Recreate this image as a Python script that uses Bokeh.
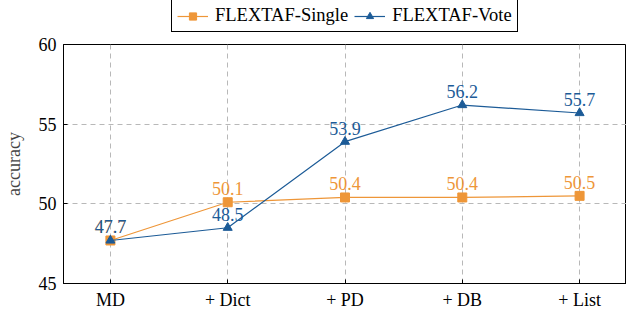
from bokeh.plotting import figure
from bokeh.layouts import column
from bokeh.models import Range1d, FixedTicker, Legend, LegendItem, ColumnDataSource
from bokeh.core.properties import value
from bokeh.embed import file_html
from bokeh.resources import INLINE

categories = ["MD", "+ Dict", "+ PD", "+ DB", "+ List"]
single = [47.7, 50.1, 50.4, 50.4, 50.5]
vote = [47.7, 48.5, 53.9, 56.2, 55.7]
series_names = ["FLEXTAF-Single", "FLEXTAF-Vote"]
y_ticks = [45, 50, 55, 60]

ORANGE = "#ee9638"
BLUE = "#1c5b97"
FONT = "Liberation Serif"
FS = "18px"

xs = list(range(len(categories)))

W = 626
p = figure(width=W, height=276, output_backend="svg", toolbar_location=None,
           x_range=Range1d(-0.4, len(categories) - 0.6), y_range=Range1d(45, 60),
           min_border_left=61, min_border_right=0, min_border_top=8, min_border_bottom=27)

p.outline_line_color = "black"
p.outline_line_width = 1
p.background_fill_color = "white"
p.border_fill_color = "white"

# axes
p.xaxis.ticker = FixedTicker(ticks=xs)
p.xaxis.major_label_overrides = {i: c for i, c in enumerate(categories)}
p.yaxis.ticker = FixedTicker(ticks=y_ticks)
for ax in (p.xaxis[0], p.yaxis[0]):
    ax.axis_line_color = "black"
    ax.major_tick_in = 4
    ax.major_tick_out = 0
    ax.minor_tick_line_color = None
    ax.major_tick_line_color = "black"
    ax.major_label_text_font = FONT
    ax.major_label_text_font_size = FS
    ax.major_label_text_color = "black"
p.xaxis.major_label_standoff = 6
p.yaxis.major_label_standoff = 7
p.yaxis.axis_label = "accuracy"
p.yaxis.axis_label_text_font = FONT
p.yaxis.axis_label_text_font_size = FS
p.yaxis.axis_label_text_font_style = "normal"
p.yaxis.axis_label_standoff = 12

# grid
for g in (p.xgrid[0], p.ygrid[0]):
    g.grid_line_color = "#b8b8b8"
    g.grid_line_dash = "5 4"
    g.grid_line_width = 1
p.xgrid.ticker = FixedTicker(ticks=xs)
p.ygrid.ticker = FixedTicker(ticks=y_ticks)

src = ColumnDataSource(dict(x=xs, single=single, vote=vote,
                            single_lbl=[f"{v:.1f}" for v in single],
                            vote_lbl=[f"{v:.1f}" for v in vote]))

def draw_series(fig):
    a = fig.line("x", "single", source=src, line_color=ORANGE, line_width=1.2)
    b = fig.scatter("x", "single", source=src, marker="square", size=9,
                    fill_color=ORANGE, line_color=ORANGE)
    c = fig.line("x", "vote", source=src, line_color=BLUE, line_width=1.2)
    d = fig.scatter("x", "vote", source=src, marker="triangle", size=9,
                    fill_color=BLUE, line_color=BLUE)
    return a, b, c, d

draw_series(p)

p.text("x", "single", text="single_lbl", source=src, text_color=ORANGE,
       text_font=value(FONT), text_font_size=value(FS), text_align="center",
       text_baseline="bottom", y_offset=-7)
p.text("x", "vote", text="vote_lbl", source=src, text_color=BLUE,
       text_font=value(FONT), text_font_size=value(FS), text_align="center",
       text_baseline="bottom", y_offset=-7)

# legend strip on top (its own view is far away from the data, so only the legend shows)
lg = figure(width=W, height=36, output_backend="svg", toolbar_location=None,
            x_axis_location=None, y_axis_location=None,
            x_range=Range1d(100, 101), y_range=Range1d(100, 101),
            min_border=0)
lg.outline_line_color = None
lg.xgrid.visible = False
lg.ygrid.visible = False
d1, d2, d3, d4 = draw_series(lg)
legend = Legend(items=[LegendItem(label=series_names[0], renderers=[d1, d2]),
                       LegendItem(label=series_names[1], renderers=[d3, d4])],
                orientation="horizontal", location=(108, 4))
legend.label_text_font = FONT
legend.label_text_font_size = "18.5px"
legend.label_text_color = "black"
legend.border_line_color = "black"
legend.border_line_width = 1
legend.border_line_alpha = 1
legend.padding = 5
legend.margin = 0
legend.spacing = 6
legend.glyph_width = 31
legend.glyph_height = 18
legend.label_standoff = 7
legend.label_height = 18
legend.background_fill_alpha = 1
lg.add_layout(legend, "center")

layout = column(lg, p, spacing=0)
open("out.html", "w").write(file_html(layout, INLINE))
